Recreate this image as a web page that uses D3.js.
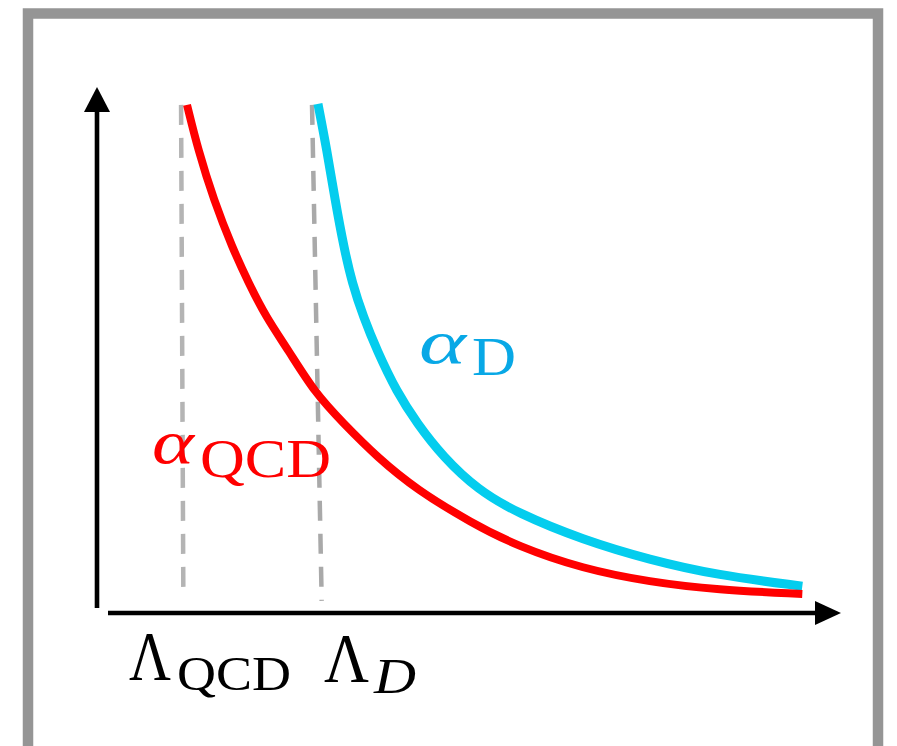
<!DOCTYPE html>
<html>
<head>
<meta charset="utf-8">
<script src="https://cdn.jsdelivr.net/npm/d3@7"></script>
<style>
  body { margin: 0; background: #fff; }
  text { font-family: "Liberation Serif", "DejaVu Serif", serif; }
</style>
</head>
<body>
<div id="chart"></div>
<script>
// running couplings (arbitrary units, 0..10 on both axes)
var qcdX = [1.21, 1.36, 1.57, 1.82, 2.04, 2.27, 2.57, 2.93, 3.31, 3.76, 4.30, 5.04, 5.65, 6.53, 7.43, 8.33, 9.48];
var qcdY = [9.66, 8.80, 7.85, 6.94, 6.27, 5.63, 5.00, 4.18, 3.61, 2.97, 2.34, 1.71, 1.27, 0.84, 0.59, 0.44, 0.36];
var darkX = [2.97, 3.09, 3.20, 3.32, 3.43, 3.58, 3.76, 4.03, 4.30, 4.65, 5.12, 5.65, 6.53, 7.43, 8.33, 9.48];
var darkY = [9.68, 8.80, 7.85, 6.94, 6.27, 5.63, 5.00, 4.20, 3.61, 2.97, 2.34, 1.90, 1.39, 1.01, 0.72, 0.51];

// the two confinement scales (dashed guides): x at top/bottom, lower end
var lambdaNames = ["QCD", "D"];
var lambdaTopX = [1.13, 2.89];
var lambdaBotX = [1.16, 3.02];
var lambdaBotY = [0.49, 0.23];

var W = 897, H = 746;

var svg = d3.select("#chart").append("svg")
  .attr("width", W).attr("height", H);

// gray frame round the whole picture
svg.append("rect")
  .attr("x", 28).attr("y", 13.5)
  .attr("width", 850).attr("height", 750)
  .attr("fill", "none")
  .attr("stroke", "#959595")
  .attr("stroke-width", 10.5);

var x = d3.scaleLinear().domain([0, 10]).range([97, 841]);
var y = d3.scaleLinear().domain([0, 10]).range([613, 87]);

// axes with arrow heads
var axisW = 4.6;
svg.append("line")
  .attr("x1", x(0)).attr("x2", x(0))
  .attr("y1", 608).attr("y2", y(10) + 20)
  .attr("stroke", "#000").attr("stroke-width", axisW);
svg.append("path")
  .attr("d", `M${x(0)},${y(10)} L${x(0) - 13},${y(10) + 25} L${x(0) + 13},${y(10) + 25} Z`)
  .attr("fill", "#000");

svg.append("line")
  .attr("x1", 108).attr("x2", x(10) - 20)
  .attr("y1", y(0)).attr("y2", y(0))
  .attr("stroke", "#000").attr("stroke-width", axisW);
svg.append("path")
  .attr("d", `M${x(10)},${y(0)} L${x(10) - 26},${y(0) - 12} L${x(10) - 26},${y(0) + 12} Z`)
  .attr("fill", "#000");

// dashed guides at Lambda_QCD and Lambda_D
svg.selectAll(".guide")
  .data(lambdaNames)
  .join("line")
  .attr("class", "guide")
  .attr("x1", (d, i) => x(lambdaTopX[i]))
  .attr("y1", y(9.66))
  .attr("x2", (d, i) => x(lambdaBotX[i]))
  .attr("y2", (d, i) => y(lambdaBotY[i]))
  .attr("stroke", (d, i) => i == 0 ? "#b4b4b4" : "#a9a9a9")
  .attr("stroke-width", 4.5)
  .attr("stroke-dasharray", "20,13");

// basis smooths out the wobble of hand-read points
var line = d3.line()
  .x(d => x(d[0]))
  .y(d => y(d[1]))
  .curve(d3.curveBasis);

svg.append("path")
  .datum(darkX.map((v, i) => [v, darkY[i]]))
  .attr("d", line)
  .attr("fill", "none")
  .attr("stroke", "#04cdee")
  .attr("stroke-width", 9);

svg.append("path")
  .datum(qcdX.map((v, i) => [v, qcdY[i]]))
  .attr("d", line)
  .attr("fill", "none")
  .attr("stroke", "#ff0000")
  .attr("stroke-width", 8);

// a symbol with its subscript; widths forced so they match the LaTeX glyphs
function label(main, sub, color) {
  var g = svg.append("g").attr("fill", color);
  g.append("text")
    .attr("x", main.x).attr("y", main.y)
    .attr("textLength", main.w).attr("lengthAdjust", "spacingAndGlyphs")
    .style("font-size", main.size + "px")
    .style("font-style", main.italic ? "italic" : "normal")
    .text(main.t);
  g.append("text")
    .attr("x", sub.x).attr("y", sub.y)
    .attr("textLength", sub.w).attr("lengthAdjust", "spacingAndGlyphs")
    .style("font-size", sub.size + "px")
    .style("font-style", sub.italic ? "italic" : "normal")
    .text(sub.t);
}

// curve labels
label({ t: "α", x: 152, y: 463, w: 42, size: 62, italic: true },
      { t: "QCD", x: 200, y: 477, w: 131, size: 54 }, "#ff0000");
label({ t: "α", x: 419, y: 363, w: 47, size: 62, italic: true },
      { t: "D", x: 472, y: 375, w: 44, size: 55 }, "#08a8e6");

// scale labels under the axis
label({ t: "Λ", x: 129, y: 680, w: 42, size: 70 },
      { t: lambdaNames[0], x: 177, y: 690, w: 114, size: 48 }, "#000");
label({ t: "Λ", x: 324, y: 682, w: 45, size: 70 },
      { t: lambdaNames[1], x: 374, y: 693, w: 42, size: 50, italic: true }, "#000");
</script>
</body>
</html>
